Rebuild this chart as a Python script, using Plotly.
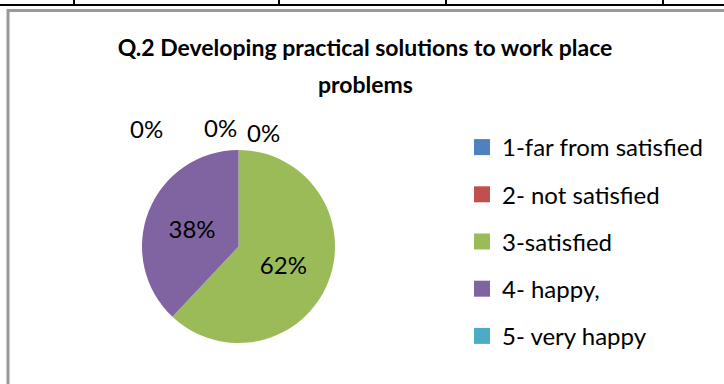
import plotly.graph_objects as go

# Survey responses for Q.2
categories = ["1-far from satisfied", "2- not satisfied", "3-satisfied", "4- happy,", "5- very happy"]
shares = [0, 0, 62, 38, 0]
colors = ["#4F81BD", "#C0504D", "#9BBB59", "#8064A2", "#4BACC6"]
title_lines = ["Q.2 Developing practical solutions to work place", "problems"]

W, H = 724, 384
FONT = "Lato, Carlito, Calibri, sans-serif"

# pie geometry in pixels
cx, cy, r = 238.5, 246.5, 96.5

fig = go.Figure()

fig.add_trace(go.Pie(
    labels=categories,
    values=shares,
    sort=False,
    direction="clockwise",
    rotation=0,
    marker=dict(colors=colors, line=dict(width=0)),
    texttemplate="%{percent:.0%}",
    textposition="inside",
    insidetextorientation="horizontal",
    textfont=dict(family=FONT, size=24, color="#000000"),
    showlegend=False,
    hoverinfo="label+percent",
    domain=dict(x=[(cx - r) / W, (cx + r) / W], y=[1 - (cy + r) / H, 1 - (cy - r) / H]),
))

# legend entries, one group each so the rows are spaced out
for name, col in zip(categories, colors):
    fig.add_trace(go.Scatter(
        x=[None], y=[None], mode="markers", name=name, legendgroup=name,
        marker=dict(symbol="square", size=18, color=col),
    ))

# labels for the zero-share slices that sit at the top of the pie
zero_pos = {0: (146, 128.5), 1: (220, 127), 4: (263, 132.5)}
total = sum(shares)
for i, (px, py) in zero_pos.items():
    fig.add_annotation(
        x=px / W, y=1 - py / H, xref="paper", yref="paper",
        xanchor="center", yanchor="middle",
        text=f"{round(100 * shares[i] / total)}%", showarrow=False,
        font=dict(family=FONT, size=24, color="#000000"),
    )

# second title line
fig.add_annotation(
    x=365 / W, y=1 - 84 / H, xref="paper", yref="paper",
    xanchor="center", yanchor="middle", showarrow=False,
    text=f"<b>{title_lines[1]}</b>",
    font=dict(family=FONT, size=23, color="#000000"),
)

shapes = [
    # chart frame
    dict(type="rect", xref="paper", yref="paper",
         x0=8 / W, x1=1.2, y0=-0.2, y1=1 - 10.5 / H,
         line=dict(color="#999999", width=3), fillcolor="rgba(0,0,0,0)"),
    # table rule above the chart
    dict(type="line", xref="paper", yref="paper",
         x0=0, x1=1, y0=1 - 5 / H, y1=1 - 5 / H,
         line=dict(color="#000000", width=2)),
]
for vx in [74, 279, 446, 663]:
    shapes.append(dict(type="line", xref="paper", yref="paper",
                       x0=vx / W, x1=vx / W, y0=1, y1=1 - 5 / H,
                       line=dict(color="#000000", width=2)))

fig.update_layout(
    width=W, height=H,
    margin=dict(l=0, r=0, t=0, b=0),
    paper_bgcolor="white", plot_bgcolor="white",
    title=dict(text=title_lines[0], x=365 / W, xanchor="center", y=1 - 48 / H, yanchor="middle",
               font=dict(family=FONT, size=23, color="#000000", weight="bold")),
    xaxis=dict(visible=False, domain=[0.9, 1]),
    yaxis=dict(visible=False),
    legend=dict(
        x=462 / W, xanchor="left", y=1 - 125 / H, yanchor="top",
        font=dict(family=FONT, size=24, color="#000000"),
        tracegroupgap=13, bgcolor="rgba(0,0,0,0)",
    ),
    shapes=shapes,
)

fig.write_html("out.html")
